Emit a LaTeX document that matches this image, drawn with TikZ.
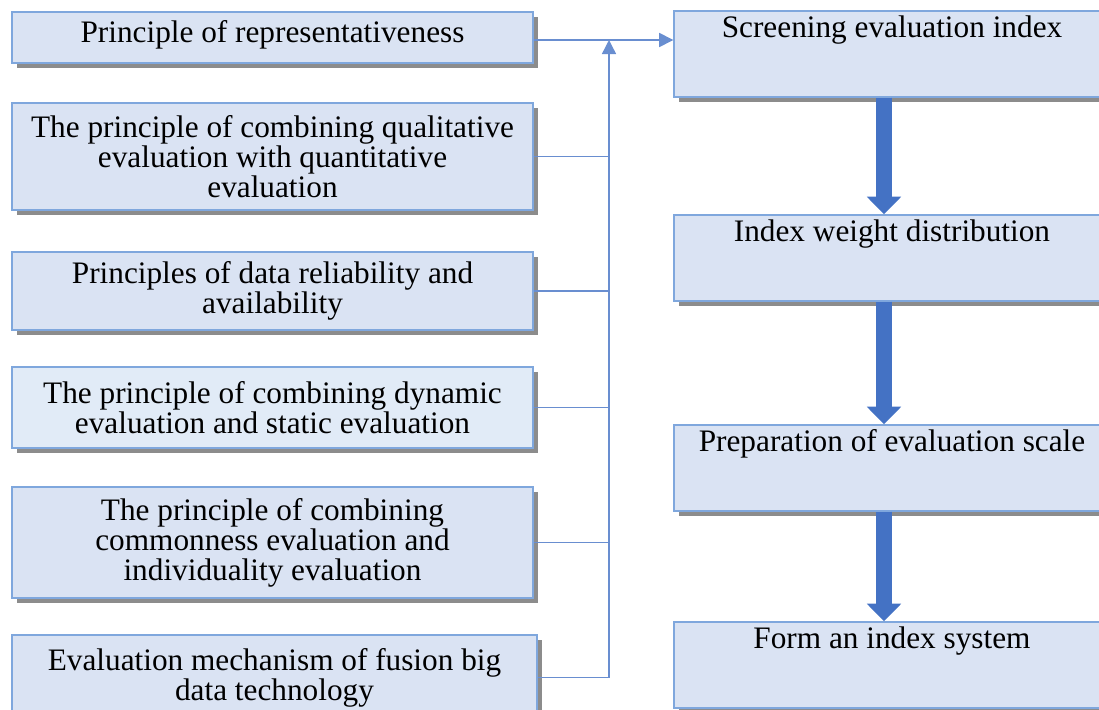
\documentclass[tikz,border=0pt]{standalone}
\usepackage{fontspec}
\setmainfont{Liberation Serif}
\usetikzlibrary{arrows.meta,shadows}
\definecolor{boxfill}{HTML}{DAE3F3}
\definecolor{boxfilltwo}{HTML}{E1EBF7}
\definecolor{boxline}{HTML}{7FA7DD}
\definecolor{flowblue}{HTML}{4472C4}
\begin{document}
\begin{tikzpicture}
  [x=0.02cm,y=-0.02cm,
   every node/.style={font=\fontsize{17.8}{17}\selectfont},
   lbox/.style={draw=boxline,line width=0.8pt,fill=boxfill,minimum width=521*0.02cm,
     align=center,inner sep=0pt,
     drop shadow={shadow xshift=2.6pt,shadow yshift=-2.6pt,fill=black!45,opacity=1}},
   rbox/.style={lbox,minimum width=436*0.02cm,minimum height=86*0.02cm},
   link/.style={draw=flowblue!80,line width=0.8pt},
   bigarrow/.style={draw=flowblue,line width=9pt,-{Triangle[width=19pt,length=10pt]}}]
  \useasboundingbox (0,0) rectangle (1099,710);

  \node (l1)[lbox,minimum height=51*0.02cm] at (272.5,37.5) {\raisebox{6.5pt}{Principle of representativeness}};
  \node (l2)[lbox,minimum height=107*0.02cm] at (272.5,156.5) {The principle of combining qualitative\\ evaluation with quantitative\\ evaluation};
  \node (l3)[lbox,minimum height=78*0.02cm] at (272.5,291) {Principles of data reliability and\\ availability};
  \node (l4)[lbox,fill=boxfilltwo,minimum height=81*0.02cm] at (272.5,407.5) {The principle of combining dynamic\\ evaluation and static evaluation};
  \node (l5)[lbox,minimum height=111*0.02cm] at (272.5,542.5) {The principle of combining\\ commonness evaluation and\\ individuality evaluation};
  \node (l6)[lbox,minimum width=525*0.02cm,minimum height=85*0.02cm] at (274.5,677.5) {Evaluation mechanism of fusion big\\ data technology};

  \node (r1)[rbox] at (892,54) {};
  \node (r2)[rbox] at (892,258) {};
  \node (r3)[rbox] at (892,468) {};
  \node (r4)[rbox] at (892,665) {};
  \node (t1)[anchor=north,inner sep=3pt] at (r1.north) {Screening evaluation index};
  \node (t2)[anchor=north,inner sep=3pt] at (r2.north) {Index weight distribution};
  \node (t3)[anchor=north,inner sep=3pt] at (r3.north) {Preparation of evaluation scale};
  \node (t4)[anchor=north,inner sep=3pt] at (r4.north) {Form an index system};

  \coordinate (bus) at (609,40);
  \coordinate (spine) at (884,0);

  \draw[link,-{Triangle[width=8pt,length=8pt]}] (l1.east |- bus) -- (r1.west |- bus);
  \draw[link,-{Triangle[width=8pt,length=8pt]}] (l6.east) -| (bus);
  \foreach \from in {l2,l3,l4,l5}
    \draw[link] (\from.east) -- (\from.east -| bus);

  \foreach \from/\to in {r1/r2,r2/r3,r3/r4}
    \draw[bigarrow] (\from.south -| spine) -- (\to.north -| spine);
\end{tikzpicture}
\end{document}
